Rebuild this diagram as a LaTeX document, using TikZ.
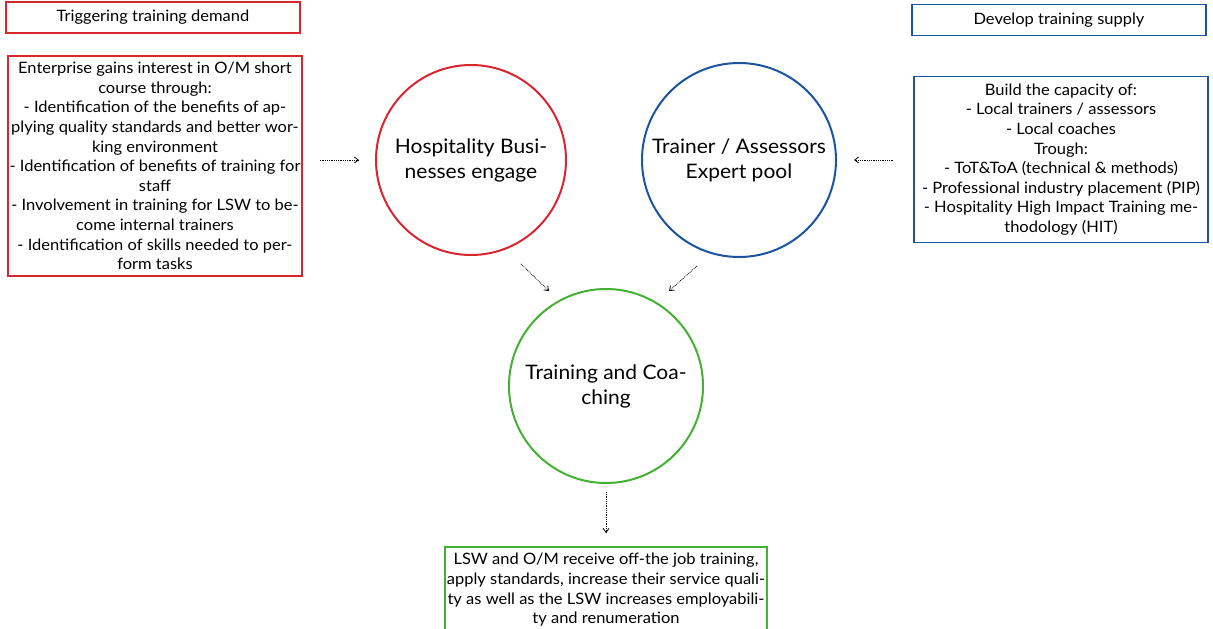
\documentclass[tikz,border=0pt]{standalone}
\usepackage{fontspec}
\setmainfont{Lato}[FakeStretch=1.05]
\usetikzlibrary{arrows.meta}
\definecolor{demandred}{HTML}{D7262E}
\definecolor{supplyblue}{HTML}{1C54A0}
\definecolor{coachgreen}{HTML}{45B035}

\begin{document}
\begin{tikzpicture}[x=1pt,y=-1pt,
    box/.style={draw,line width=1.6pt,inner sep=1pt,align=center,
      font=\fontsize{15.7}{19.6}\selectfont},
    ring/.style={circle,draw,line width=2pt,align=center,inner sep=0pt,
      font=\fontsize{20}{25}\selectfont},
    flow/.style={densely dotted,line width=0.8pt,-{Straight Barb[length=4pt,width=6pt]}}]
    \useasboundingbox (0,0) rectangle (1213,629);
    % demand side
    \node[box,draw=demandred,minimum width=294,minimum height=31] (demand) at (153,17.5) {Triggering training demand};
    \node[box,draw=demandred,minimum width=294,minimum height=220] (interest) at (155,166) {Enterprise gains interest in O/M short\\course through:\\- Identification of the benefits of ap-\\plying quality standards and better wor-\\king environment\\- Identification of benefits of training for\\staff\\- Involvement in training for LSW to be-\\come internal trainers\\- Identification of skills needed to per-\\form tasks};
    % supply side
    \node[box,draw=supplyblue,minimum width=294,minimum height=31] (supply) at (1059,20) {Develop training supply};
    \node[box,draw=supplyblue,minimum width=294,minimum height=166] (capacity) at (1061,159.5) {Build the capacity of:\\- Local trainers / assessors\\- Local coaches\\Trough:\\- ToT\&ToA (technical \& methods)\\- Professional industry placement (PIP)\\- Hospitality High Impact Training me-\\thodology (HIT)};
    % circles
    \node[ring,draw=demandred,minimum size=190] (hosp) at (471,160) {Hospitality Busi-\\nesses engage};
    \node[ring,draw=supplyblue,minimum size=194] (pool) at (739,160) {Trainer / Assessors\\Expert pool};
    \node[ring,draw=coachgreen,minimum size=194] (coach) at (606,386) {Training and Coa-\\ching};
    % result
    \node[box,draw=coachgreen,minimum width=322,minimum height=86,anchor=north] (result) at (606,546) {LSW and O/M receive off-the job training,\\apply standards, increase their service quali-\\ty as well as the LSW increases employabili-\\ty and renumeration};
    % connectors
    \draw[flow] ([xshift=17]interest.east |- hosp.west) -- ([xshift=-16]hosp.west);
    \draw[flow] ([xshift=-20]capacity.west |- pool.east) -- ([xshift=17]pool.east);
    \draw[flow] ([shift={(50,8)}]hosp.south) -- ([shift={(-57,3)}]coach.north);
    \draw[flow] ([shift={(-42,8)}]pool.south) -- ([shift={(63,3)}]coach.north);
    \draw[flow] ([shift={(0,8)}]coach.south) -- ([shift={(0,-13)}]result.north);
\end{tikzpicture}
\end{document}
